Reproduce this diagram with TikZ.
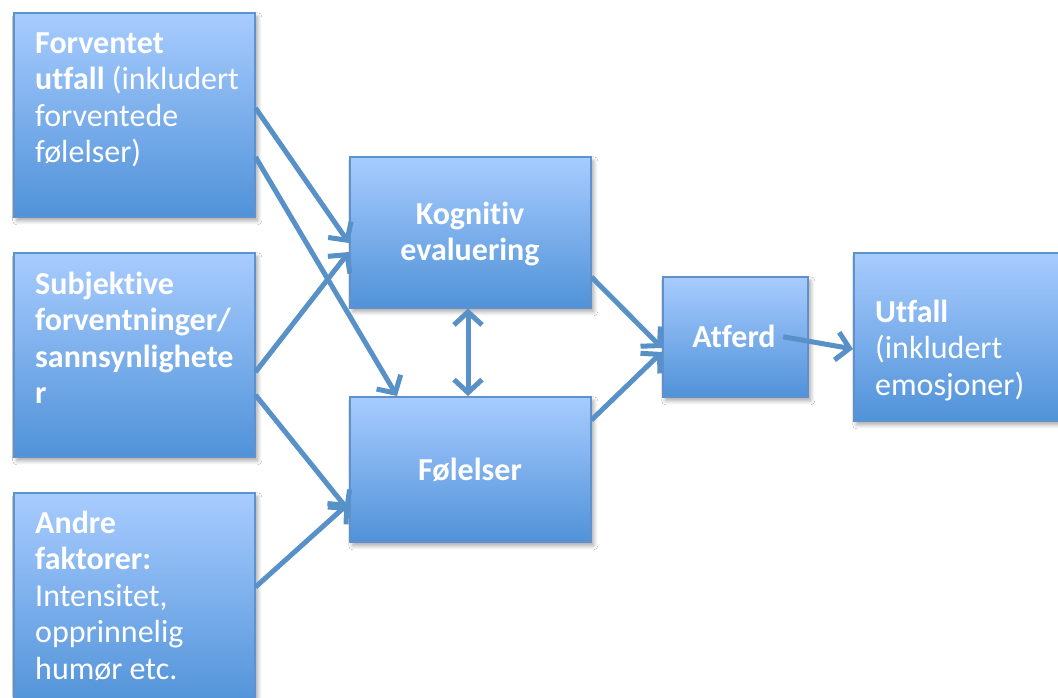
\documentclass[tikz,border=0pt]{standalone}
\usepackage{fontspec}
\setmainfont{Carlito}[Ligatures=NoCommon]
\usetikzlibrary{arrows.meta,shadows.blur}
\definecolor{boxtop}{RGB}{168,204,255}
\definecolor{boxbot}{RGB}{80,146,216}
\definecolor{boxline}{RGB}{95,145,205}
\definecolor{flowcol}{RGB}{88,144,200}
\begin{document}
\begin{tikzpicture}[x=1pt,y=-1pt,
  box/.style={draw=boxline, line width=1.5pt, top color=boxtop, bottom color=boxbot,
    anchor=north west, inner sep=0pt,
    blur shadow={shadow xshift=3pt, shadow yshift=-4pt, shadow blur steps=6,
      shadow opacity=35, shadow blur radius=4pt}},
  txt/.style={text=white, font=\fontsize{32}{36.5}\selectfont, inner sep=0pt},
  ltxt/.style={txt, text width=225pt, align=flush left, anchor=base west},
  ctxt/.style={txt, text width=230pt, align=flush center, anchor=base},
  flow/.style={draw=flowcol, line width=5pt, -{Straight Barb[length=13pt,width=28pt]}},
  dflow/.style={draw=flowcol, line width=5pt,
    {Straight Barb[length=13pt,width=28pt]}-{Straight Barb[length=13pt,width=28pt]}},
]
\fill[white] (0,0) rectangle (1058,697);
\useasboundingbox (0,0) rectangle (1058,697);

% boxes
\node[box, minimum width=241pt, minimum height=204pt] (A) at (13,12) {};
\node[box, minimum width=241pt, minimum height=204pt] (B) at (13,252) {};
\node[box, minimum width=241pt, minimum height=215pt] (C) at (13,492) {};
\node[box, minimum width=241pt, minimum height=151pt] (K) at (349,156) {};
\node[box, minimum width=241pt, minimum height=145pt] (F) at (349,396) {};
\node[box, minimum width=145pt, minimum height=120pt] (At) at (662,276) {};
\node[box, minimum width=230pt, minimum height=168pt] (U) at (853,252) {};

% texts
\node[ltxt] (tA) at (35,53) {\textbf{Forventet}\\\textbf{utfall} (inkludert\\forventede\\følelser)};
\node[ltxt] (tB) at (35,294) {\textbf{Subjektive}\\\textbf{forventninger/}\\\textbf{sannsynlighete}\\\textbf{r}};
\node[ltxt] (tC) at (35,533) {\textbf{Andre}\\\textbf{faktorer:}\\Intensitet,\\opprinnelig\\humør etc.};
\node[ctxt] (tK) at (470,224) {\textbf{Kognitiv}\\\textbf{evaluering}};
\node[ctxt] (tF) at (470,480) {\textbf{Følelser}};
\node[ctxt] (tAt) at (734,347) {\textbf{Atferd}};
\node[ltxt] (tU) at (875,322) {\textbf{Utfall}\\(inkludert\\emosjoner)};

% connectors
\draw[flow] (A.east |- 0,108) -- (K.west |- 0,243);
\draw[flow] (A.east |- 0,157) -- (397,0 |- F.north);
\draw[flow] (B.east |- 0,372) -- (K.west |- 0,252);
\draw[flow] (B.east |- 0,395) -- (F.west |- 0,511);
\draw[flow] (C.east |- 0,587) -- (F.west |- 0,503);
\draw[dflow] (468,0 |- K.south) -- (468,0 |- F.north);
\draw[flow] (K.east |- 0,277) -- (At.west |- 0,348);
\draw[flow] (F.east |- 0,420) -- (At.west |- 0,352);
\draw[flow] ([xshift=48pt]At.center) -- (U.west |- 0,349);
\end{tikzpicture}
\end{document}
